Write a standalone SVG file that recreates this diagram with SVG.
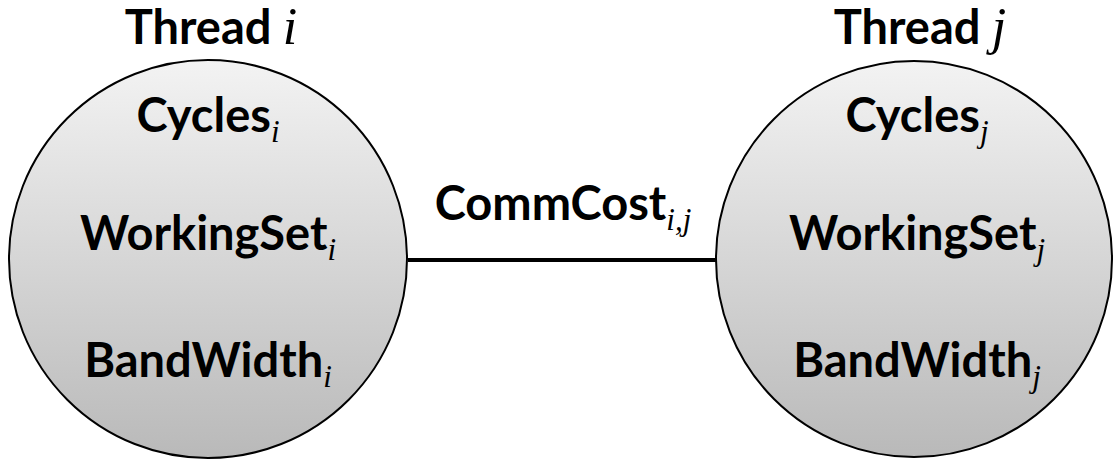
<svg xmlns="http://www.w3.org/2000/svg" width="1114" height="461" viewBox="0 0 1114 461">
<style>
.t{font-family:Lato,"Open Sans",sans-serif;font-weight:bold;font-size:47px;fill:#000;text-anchor:middle}
.s{font-family:"Liberation Serif",serif;font-style:italic;font-weight:normal;font-size:31px}
.big{font-family:"Liberation Serif",serif;font-style:italic;font-weight:normal;font-size:52px}
.node{stroke:#000;stroke-width:2;fill:url(#g)}
.edge{stroke:#000;stroke-width:4;fill:none}
</style>
<defs>
<linearGradient id="g" x1="0" y1="0" x2="0" y2="1">
<stop offset="0" stop-color="#f3f3f3"/>
<stop offset="1" stop-color="#b9b9b9"/>
</linearGradient>
</defs>
<g id="connectors">
<line class="edge" x1="408" y1="260" x2="716" y2="260"/>
<text class="t" x="563" y="220">CommCost<tspan class="s" dy="10">i,j</tspan></text>
</g>
<g id="thread-i">
<circle class="node" cx="208" cy="259" r="199"/>
<text class="t" x="211" y="44">Thread <tspan class="big">i</tspan></text>
<text class="t" x="208" y="132">Cycles<tspan class="s" dy="10">i</tspan></text>
<text class="t" x="208" y="250">WorkingSet<tspan class="s" dy="10">i</tspan></text>
<text class="t" x="208" y="377">BandWidth<tspan class="s" dy="10">i</tspan></text>
</g>
<g id="thread-j">
<circle class="node" cx="914" cy="259" r="198"/>
<text class="t" x="920" y="44">Thread <tspan class="big">j</tspan></text>
<text class="t" x="917" y="132">Cycles<tspan class="s" dy="10">j</tspan></text>
<text class="t" x="917" y="250">WorkingSet<tspan class="s" dy="10">j</tspan></text>
<text class="t" x="917" y="377">BandWidth<tspan class="s" dy="10">j</tspan></text>
</g>
</svg>
